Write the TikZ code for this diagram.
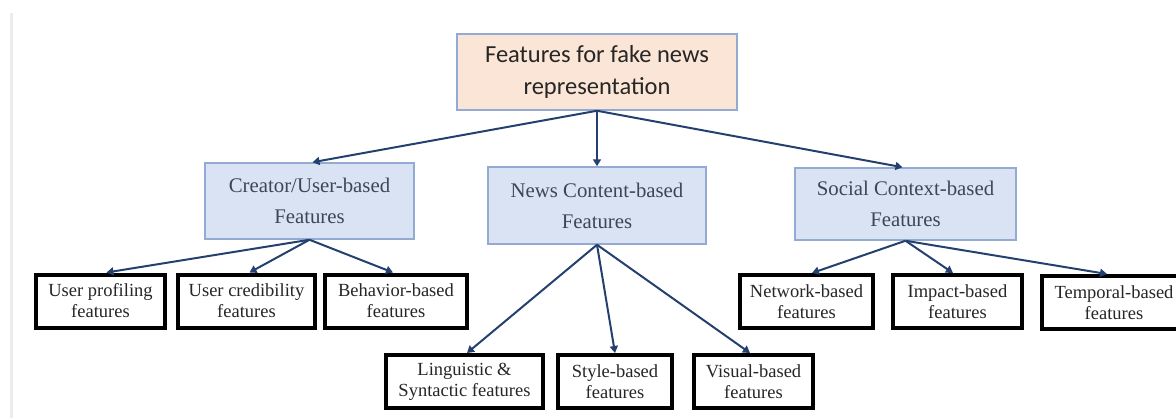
\documentclass[tikz,border=0pt]{standalone}
\usepackage{fontspec}
\setmainfont{Liberation Serif}
\newfontfamily\calib{Carlito}
\usetikzlibrary{arrows.meta}
\definecolor{rootfill}{HTML}{FBE5D6}
\definecolor{midfill}{HTML}{DAE3F3}
\definecolor{boxline}{HTML}{93ABD2}
\definecolor{midtext}{HTML}{3B4656}
\definecolor{conncol}{HTML}{24406E}
\definecolor{sideline}{HTML}{ECECEC}
\tikzset{
  rootbox/.style={draw=boxline, line width=1.5pt, fill=rootfill, inner sep=0pt,
    align=center, text=black!85,
    font=\calib\fontsize{24.5}{32}\selectfont},
  midbox/.style={draw=boxline, line width=1.5pt, fill=midfill, inner sep=0pt,
    align=center, text=midtext,
    font=\fontsize{20.8}{31}\selectfont},
  leafbox/.style={draw=black, line width=4pt, fill=white, inner sep=0pt,
    minimum height=53pt, align=center, text=black!85,
    font=\fontsize{18.5}{21}\selectfont},
  conn/.style={draw=conncol, line width=2pt,
    -{Triangle[length=7pt,width=8pt]}}
}
\begin{document}
\begin{tikzpicture}[x=1pt,y=-1pt]
\useasboundingbox (0,0) rectangle (1176,418);
% thin grey rule along the left margin
\fill[sideline] (10,13) rectangle (13,418);

% root
\node[rootbox, minimum width=280pt, minimum height=76pt] (root) at (597,72)
  {Features for fake news\\representation};

% second level
\node[midbox, minimum width=209pt, minimum height=76pt] (creator) at (309.5,201)
  {Creator/User-based\\Features};
\node[midbox, minimum width=218pt, minimum height=77pt] (content) at (597,205.5)
  {News Content-based\\Features};
\node[midbox, minimum width=221pt, minimum height=72pt] (social) at (905.5,204)
  {Social Context-based\\Features};

% leaves of the creator/user branch
\node[leafbox, minimum width=129pt] (profiling) at (100.5,301)
  {User profiling\\features};
\node[leafbox, minimum width=137pt] (credibility) at (246.5,301)
  {User credibility\\features};
\node[leafbox, minimum width=142pt] (behavior) at (396,301)
  {Behavior-based\\features};

% leaves of the content branch
\node[leafbox, minimum width=157pt] (linguistic) at (464.5,381.5)
  {Linguistic \&\\Syntactic features};
\node[leafbox, minimum width=114pt] (style) at (615,381.5)
  {Style-based\\features};
\node[leafbox, minimum width=119pt] (visual) at (753.5,381.5)
  {Visual-based\\features};

% leaves of the social branch
\node[leafbox, minimum width=133pt] (network) at (806.5,301.5)
  {Network-based\\features};
\node[leafbox, minimum width=129pt] (impact) at (957.5,301.5)
  {Impact-based\\features};
\node[leafbox, minimum width=144pt] (temporal) at (1114,302.5)
  {Temporal-based\\features};

% connectors
\draw[conn] (root.south) -- ([xshift=3pt]creator.north);
\draw[conn] (root.south) -- (content.north);
\draw[conn] (root.south) -- ([xshift=-3pt]social.north);

\draw[conn] (creator.south) -- ([xshift=6pt]profiling.north);
\draw[conn] (creator.south) -- ([xshift=3pt]credibility.north);
\draw[conn] (creator.south) -- ([xshift=-3pt]behavior.north);

\draw[conn] (content.south) -- ([xshift=2.5pt]linguistic.north);
\draw[conn] (content.south) -- (style.north);
\draw[conn] (content.south) -- ([xshift=-3.5pt]visual.north);

\draw[conn] (social.south) -- ([xshift=5.5pt]network.north);
\draw[conn] (social.south) -- ([xshift=-4.5pt]impact.north);
\draw[conn] (social.south) -- ([xshift=-7pt]temporal.north);
\end{tikzpicture}
\end{document}
